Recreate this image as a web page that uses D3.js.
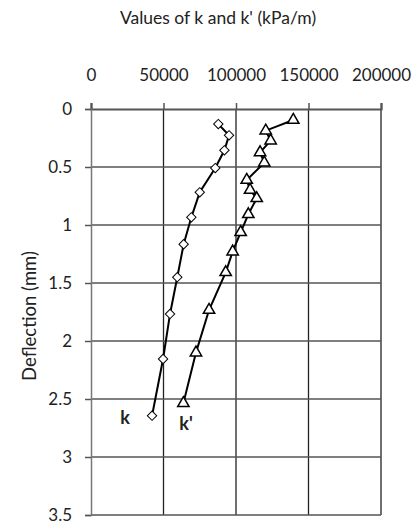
<!DOCTYPE html>
<html><head><meta charset="utf-8">
<script src="https://cdn.jsdelivr.net/npm/d3@7"></script>
<style>body{margin:0;background:#fff}svg{display:block}text{font-family:Lato,"Open Sans",sans-serif;fill:#222}</style>
</head><body><svg id="c" width="416" height="524"></svg>
<script>
const xTicks = [0, 50000, 100000, 150000, 200000];
const yTicks = [0, 0.5, 1, 1.5, 2, 2.5, 3, 3.5];
const kValues = [87800, 95200, 92000, 85700, 75000, 69200, 63900, 59500, 54500, 49700, 42100];
const kDefl   = [0.13, 0.227, 0.356, 0.509, 0.718, 0.934, 1.166, 1.45, 1.767, 2.155, 2.644];
const kpValues = [139500, 120500, 123900, 116600, 119500, 107400, 109700, 114300, 108500, 103200, 97700, 92900, 81400, 72400, 63700];
const kpDefl   = [0.095, 0.187, 0.273, 0.374, 0.463, 0.612, 0.698, 0.770, 0.908, 1.063, 1.23, 1.408, 1.733, 2.10, 2.537];
const chartTitle = "Values of k and k' (kPa/m)";
const yTitle = "Deflection (mm)";

const svg = d3.select("#c");
const x = d3.scaleLinear().domain([0, 200000]).range([91, 381]);
const y = d3.scaleLinear().domain([0, 3.5]).range([109, 515]);
const FS = 17;

// grid
svg.append("g").selectAll("line").data(xTicks.slice(1)).join("line")
  .attr("x1", d => x(d)).attr("x2", d => x(d)).attr("y1", y(0)).attr("y2", y(3.5))
  .attr("stroke", "#222").attr("stroke-width", 1.3);
svg.append("g").selectAll("line").data(yTicks.slice(1)).join("line")
  .attr("x1", x(0)).attr("x2", x(200000)).attr("y1", d => y(d)).attr("y2", d => y(d))
  .attr("stroke", "#555").attr("stroke-width", 1.5);

// axes
const topAxis = d3.axisTop(x).tickValues(xTicks).tickSize(6).tickFormat(d3.format("d"));
const gt = svg.append("g").attr("transform", `translate(0,${y(0)})`).call(topAxis);
gt.attr("font-size", FS).attr("font-family", "Lato, sans-serif");
gt.select(".domain").attr("stroke", "#555").attr("stroke-width", 2.2);
gt.selectAll(".tick line").attr("stroke", "#555").attr("stroke-width", 1.5);
gt.selectAll(".tick text").attr("y", -28).attr("fill", "#222");

const leftAxis = d3.axisLeft(y).tickValues(yTicks).tickSize(6).tickFormat(d => d);
const gl = svg.append("g").attr("transform", `translate(${x(0)},0)`).call(leftAxis);
gl.attr("font-size", FS).attr("font-family", "Lato, sans-serif");
gl.select(".domain").attr("stroke", "#777").attr("stroke-width", 1.5);
gl.selectAll(".tick line").attr("stroke", "#555").attr("stroke-width", 1.5);
gl.selectAll(".tick text").attr("x", -19).attr("fill", "#222");

svg.append("text").attr("x", 218).attr("y", 24).attr("text-anchor", "middle")
  .attr("font-size", 17.5).text(chartTitle);
svg.append("text").attr("transform", "translate(36,316) rotate(-90)")
  .attr("text-anchor", "middle").attr("font-size", 18.5).text(yTitle);

// series
const line = d3.line();
const kPts = kValues.map((v, i) => [x(v), y(kDefl[i])]);
const kpPts = kpValues.map((v, i) => [x(v), y(kpDefl[i])]);
svg.append("path").attr("d", line(kPts)).attr("fill", "none").attr("stroke", "#000").attr("stroke-width", 2);
svg.append("path").attr("d", line(kpPts)).attr("fill", "none").attr("stroke", "#000").attr("stroke-width", 2);

svg.append("g").selectAll("path").data(kPts).join("path")
  .attr("transform", d => `translate(${d[0]},${d[1]}) rotate(45)`)
  .attr("d", d3.symbol(d3.symbolSquare, 44)())
  .attr("fill", "#fff").attr("stroke", "#000").attr("stroke-width", 1);
svg.append("g").selectAll("path").data(kpPts).join("path")
  .attr("transform", d => `translate(${d[0]},${d[1]})`)
  .attr("d", d3.symbol(d3.symbolTriangle, 56)())
  .attr("fill", "#fff").attr("stroke", "#000").attr("stroke-width", 1.5);

svg.append("text").attr("x", 125).attr("y", 424).attr("text-anchor", "middle")
  .attr("font-size", 18).attr("font-weight", "bold").text("k");
svg.append("text").attr("x", 186).attr("y", 430).attr("text-anchor", "middle")
  .attr("font-size", 18).attr("font-weight", "bold").text("k'");
</script></body></html>
